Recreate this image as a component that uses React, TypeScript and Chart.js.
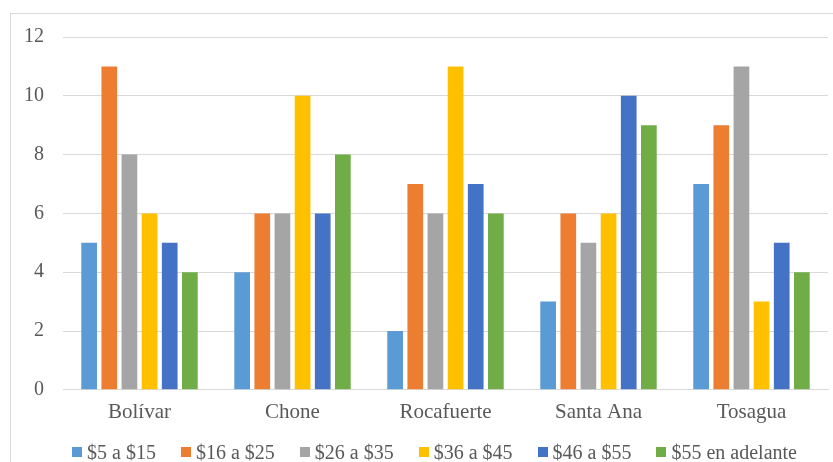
import React, { useEffect, useRef } from "react";
import { Chart, registerables } from "chart.js";

Chart.register(...registerables);

const categories = ["Bolívar", "Chone", "Rocafuerte", "Santa Ana", "Tosagua"];
const seriesNames = ["$5 a $15", "$16 a $25", "$26 a $35", "$36 a $45", "$46 a $55", "$55 en adelante"];
const s1 = [5, 4, 2, 3, 7];
const s2 = [11, 6, 7, 6, 9];
const s3 = [8, 6, 6, 5, 11];
const s4 = [6, 10, 11, 6, 3];
const s5 = [5, 6, 7, 10, 5];
const s6 = [4, 8, 6, 9, 4];
const colors = ["#5B9BD5", "#ED7D31", "#A5A5A5", "#FFC000", "#4472C4", "#70AD47"];

export default function App() {
  const ref = useRef<HTMLCanvasElement>(null);
  useEffect(() => {
    const all = [s1, s2, s3, s4, s5, s6];
    const chart = new Chart(ref.current!, {
      type: "bar",
      data: {
        labels: categories,
        datasets: all.map((d, i) => ({
          label: seriesNames[i],
          data: d,
          backgroundColor: colors[i],
          borderWidth: 0,
          categoryPercentage: 0.79,
          barPercentage: 0.78,
        })),
      },
      options: {
        animation: false,
        responsive: false,
        maintainAspectRatio: false,
        layout: { padding: { left: 0, right: 5, top: 37, bottom: 27 } },
        plugins: {
          tooltip: { enabled: false },
          legend: { display: false },
        },
        scales: {
          x: {
            grid: { display: false, drawTicks: false },
            border: { color: "#d9d9d9" },
            ticks: { color: "#595959", font: { family: "Liberation Serif", size: 21 }, padding: 10 },
          },
          y: {
            min: 0,
            max: 12,
            afterFit: (s: any) => { s.width = 63; },
            grid: { color: "#d9d9d9", drawTicks: false },
            border: { display: false },
            ticks: { stepSize: 2, color: "#595959", font: { family: "Liberation Serif", size: 20 }, padding: 19 },
          },
        },
      },
    });
    return () => chart.destroy();
  }, []);
  return (
    <div style={{ position: "fixed", left: 0, top: 0, width: 833, height: 462, background: "#fff", overflow: "hidden" }}>
      <div style={{ position: "absolute", left: 10, top: 13, width: 900, height: 600, border: "1px solid #d9d9d9" }} />
      <canvas ref={ref} width={833} height={462} style={{ position: "absolute", left: 0, top: 0 }} />
      <div
        style={{
          position: "absolute",
          left: 72,
          top: 440,
          height: 24,
          display: "flex",
          alignItems: "center",
          gap: 25,
          fontFamily: "Liberation Serif",
          fontSize: 20,
          lineHeight: "24px",
          color: "#595959",
          whiteSpace: "nowrap",
        }}
      >
        {seriesNames.map((n, i) => (
          <div key={n} style={{ display: "flex", alignItems: "center" }}>
            <span style={{ display: "inline-block", width: 10, height: 10, background: colors[i], marginRight: 5 }} />
            <span>{n}</span>
          </div>
        ))}
      </div>
    </div>
  );
}
